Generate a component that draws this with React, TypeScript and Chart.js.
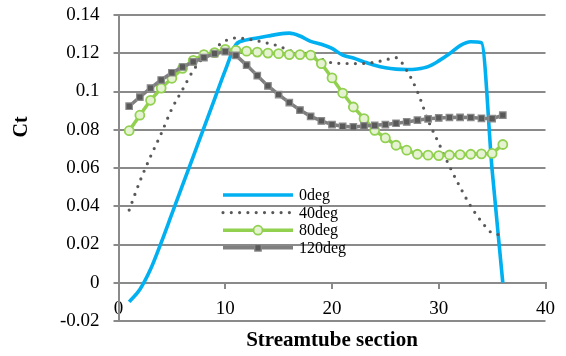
import React, { useEffect, useRef } from "react";
import { Chart, registerables } from "chart.js";

Chart.register(...registerables);

// ---- data ----
const sections = [1, 2, 3, 4, 5, 6, 7, 8, 9, 10, 11, 12, 13, 14, 15, 16, 17, 18, 19, 20, 21, 22, 23, 24, 25, 26, 27, 28, 29, 30, 31, 32, 33, 34, 35, 36];

const seriesNames = ["0deg", "40deg", "80deg", "120deg"];

const ct0 = [-0.010, -0.0035, 0.007, 0.021, 0.036, 0.051, 0.066, 0.081, 0.096, 0.111, 0.1245, 0.127, 0.128, 0.129, 0.130, 0.1305, 0.129, 0.1262, 0.1247, 0.1225, 0.119, 0.1175, 0.1155, 0.1137, 0.1124, 0.1117, 0.1115, 0.1118, 0.113, 0.116, 0.1197, 0.124, 0.126, 0.1255, 0.059, 0.0];

const ct40 = [0.038, 0.053, 0.066, 0.078, 0.091, 0.101, 0.111, 0.118, 0.1225, 0.1265, 0.128, 0.1275, 0.1265, 0.1252, 0.1238, 0.1215, 0.1202, 0.1185, 0.117, 0.115, 0.1147, 0.1146, 0.1147, 0.1153, 0.1165, 0.1177, 0.111, 0.100, 0.085, 0.073, 0.061, 0.050, 0.040, 0.032, 0.026, 0.025];

const ct80 = [0.0795, 0.0876, 0.0954, 0.1018, 0.1069, 0.1121, 0.1163, 0.1193, 0.1203, 0.122, 0.1215, 0.1211, 0.1206, 0.1201, 0.1198, 0.1193, 0.1193, 0.119, 0.1146, 0.1071, 0.0992, 0.0919, 0.0858, 0.0797, 0.0757, 0.0719, 0.0693, 0.0672, 0.0667, 0.0665, 0.0668, 0.067, 0.0672, 0.0674, 0.0676, 0.0723];

const ct120 = [0.0923, 0.0971, 0.1018, 0.106, 0.1098, 0.1128, 0.1155, 0.1177, 0.1198, 0.1208, 0.1189, 0.1138, 0.1083, 0.1029, 0.0984, 0.0942, 0.0903, 0.087, 0.0846, 0.0827, 0.0818, 0.0815, 0.082, 0.0823, 0.0827, 0.0834, 0.0841, 0.085, 0.0857, 0.0862, 0.0864, 0.0865, 0.0864, 0.086, 0.0858, 0.0876];

const yTickValues = [-0.02, 0, 0.02, 0.04, 0.06, 0.08, 0.1, 0.12, 0.14];
const yTickLabels = ["-0.02", "0", "0.02", "0.04", "0.06", "0.08", "0.1", "0.12", "0.14"];
const xTickValues = [0, 10, 20, 30, 40];
const xTickLabels = ["0", "10", "20", "30", "40"];

const xTitle = "Streamtube section";
const yTitle = "Ct";

const FONT = "'Liberation Serif', 'Times New Roman', serif";
const GRID = "#8a8a8a";

const toPoints = (vals: number[]) => sections.map((s, i) => ({ x: s, y: vals[i] }));

const legendPlugin = {
  id: "insideLegend",
  afterDraw(chart: any) {
    const { ctx, chartArea } = chart;
    const x0 = chartArea.left + 104.5;
    const lineLen = 70;
    const y0 = chartArea.top + 180;
    const gap = 17.6;
    chart.data.datasets.forEach((ds: any, i: number) => {
      const y = y0 + i * gap;
      ctx.save();
      ctx.strokeStyle = ds.borderColor;
      ctx.lineWidth = ds.borderWidth;
      ctx.setLineDash(ds.borderDash || []);
      ctx.lineCap = ds.borderCapStyle || "butt";
      ctx.beginPath();
      ctx.moveTo(x0, y);
      ctx.lineTo(x0 + lineLen, y);
      ctx.stroke();
      ctx.setLineDash([]);
      if (ds.pointRadius > 0) {
        const cx = x0 + lineLen / 2;
        ctx.fillStyle = ds.pointBackgroundColor;
        ctx.strokeStyle = ds.pointBorderColor;
        ctx.lineWidth = ds.pointBorderWidth;
        ctx.beginPath();
        if (ds.pointStyle === "rect") {
          const s = ds.pointRadius * Math.SQRT1_2;
          ctx.rect(cx - s, y - s, 2 * s, 2 * s);
        } else {
          ctx.arc(cx, y, ds.pointRadius, 0, Math.PI * 2);
        }
        ctx.fill();
        ctx.stroke();
      }
      ctx.fillStyle = "#000";
      ctx.font = `16px ${FONT}`;
      ctx.textBaseline = "middle";
      ctx.textAlign = "left";
      ctx.fillText(seriesNames[i], x0 + lineLen + 6, y + 1);
      ctx.restore();
    });
  },
};

const titlesPlugin = {
  id: "axisTitles",
  afterDraw(chart: any) {
    const { ctx, chartArea } = chart;
    ctx.save();
    ctx.fillStyle = "#000";
    ctx.font = `bold 21px ${FONT}`;
    ctx.textAlign = "center";
    ctx.textBaseline = "middle";
    ctx.fillText(xTitle, (chartArea.left + chartArea.right) / 2, chartArea.bottom + 20);
    ctx.translate(21.5, chartArea.top + 112);
    ctx.rotate(-Math.PI / 2);
    ctx.font = `bold 20px ${FONT}`;
    ctx.fillText(yTitle, 0, 0);
    ctx.restore();
  },
};

export default function App() {
  const ref = useRef<HTMLCanvasElement | null>(null);
  useEffect(() => {
    document.body.style.margin = "0";
    if (!ref.current) return;
    const chart = new Chart(ref.current, {
      type: "line",
      data: {
        datasets: [
          {
            label: seriesNames[0],
            data: toPoints(ct0),
            borderColor: "#00B0F0",
            borderWidth: 3.6,
            pointRadius: 0,
            cubicInterpolationMode: "monotone",
            order: 4,
          },
          {
            label: seriesNames[1],
            data: toPoints(ct40),
            borderColor: "#595959",
            borderWidth: 3.2,
            borderDash: [0, 8.3],
            borderCapStyle: "round",
            pointRadius: 0,
            cubicInterpolationMode: "monotone",
            order: 3,
          },
          {
            label: seriesNames[2],
            data: toPoints(ct80),
            borderColor: "#92D050",
            borderWidth: 3.5,
            pointStyle: "circle",
            pointRadius: 4.5,
            pointBorderWidth: 1.8,
            pointBorderColor: "#92D050",
            pointBackgroundColor: "#e5f3d3",
            tension: 0,
            order: 2,
          },
          {
            label: seriesNames[3],
            data: toPoints(ct120),
            borderColor: "#7f7f7f",
            borderWidth: 3.5,
            pointStyle: "rect",
            pointRadius: 4.6,
            pointBorderWidth: 1.2,
            pointBorderColor: "#8c8c8c",
            pointBackgroundColor: "#595959",
            tension: 0,
            order: 1,
          },
        ] as any,
      },
      options: {
        animation: false,
        responsive: false,
        layout: { padding: { left: 0, right: 20.5, top: 15, bottom: 35 } },
        plugins: {
          legend: { display: false },
          tooltip: { enabled: false },
        },
        scales: {
          x: {
            type: "linear",
            position: { y: 0 } as any,
            min: 0,
            max: 40,
            ticks: {
              stepSize: 10,
              padding: 10,
              color: "#000",
              font: { family: FONT, size: 19 },
              maxRotation: 0,
              callback: (v: any) => {
                const i = xTickValues.findIndex((t) => Math.abs(t - Number(v)) < 1e-9);
                return i >= 0 ? xTickLabels[i] : "";
              },
            },
            grid: { drawOnChartArea: false, drawTicks: true, tickLength: 5, color: GRID, lineWidth: 2 },
            border: { display: true, color: GRID, width: 2 },
            afterFit: (scale: any) => {
              scale.paddingTop = 0;
              scale.paddingBottom = 0;
            },
          },
          y: {
            type: "linear",
            min: -0.02,
            max: 0.14,
            ticks: {
              stepSize: 0.02,
              padding: 14,
              color: "#000",
              font: { family: FONT, size: 19 },
              callback: (v: any) => {
                const i = yTickValues.findIndex((t) => Math.abs(t - Number(v)) < 1e-9);
                return i >= 0 ? yTickLabels[i] : "";
              },
            },
            grid: { color: GRID, lineWidth: 2, tickLength: 5, drawTicks: true },
            border: { display: true, color: GRID, width: 2 },
            afterFit: (scale: any) => {
              scale.width = 118.5;
              scale.paddingTop = 0;
              scale.paddingBottom = 0;
            },
          },
        },
      },
      plugins: [legendPlugin, titlesPlugin],
    });
    return () => chart.destroy();
  }, []);
  return (
    <div style={{ width: 566, height: 356 }}>
      <canvas ref={ref} width={566} height={356} />
    </div>
  );
}
